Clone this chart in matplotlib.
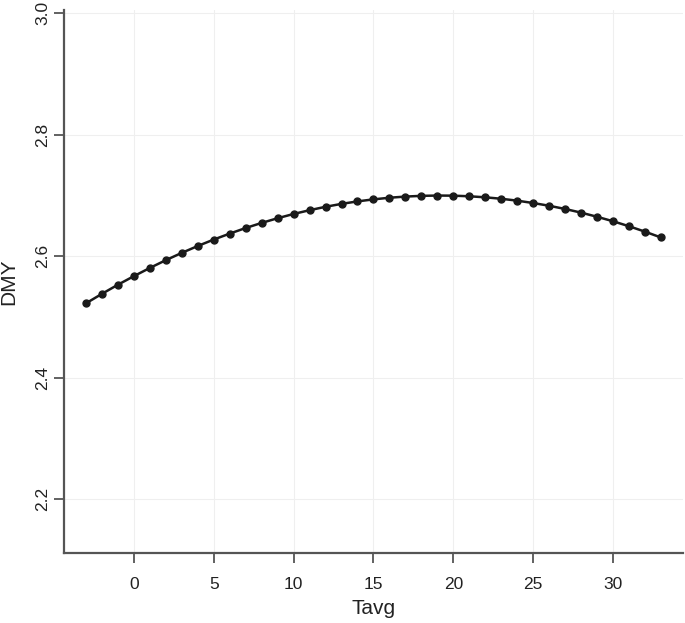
import numpy as np
import matplotlib
matplotlib.use("Agg")
import matplotlib.pyplot as plt

# values
tavg = list(range(-3, 34))
dmy = [2.5227, 2.5383, 2.5533, 2.5674, 2.5809, 2.5937, 2.6057, 2.6170,
       2.6276, 2.6374, 2.6466, 2.6550, 2.6627, 2.6697, 2.6759, 2.6815,
       2.6863, 2.6904, 2.6937, 2.6964, 2.6983, 2.6995, 2.7000, 2.6998,
       2.6988, 2.6971, 2.6947, 2.6916, 2.6877, 2.6832, 2.6779, 2.6719,
       2.6651, 2.6577, 2.6495, 2.6406, 2.6310]
xticks = [0, 5, 10, 15, 20, 25, 30]
yticks = [2.2, 2.4, 2.6, 2.8, 3.0]

plt.rcParams['font.family'] = ['Liberation Sans', 'DejaVu Sans']

fig = plt.figure(figsize=(6.85, 6.23), dpi=100)
ax = fig.add_axes([0.0934, 0.1124, 0.9036, 0.8716])

ax.plot(tavg, dmy, color='#1a1a1a', lw=1.8, marker='o', ms=5,
        mfc='#1a1a1a', mec='#1a1a1a', zorder=3)

ax.set_xlim(-4.38, 34.38)
ax.set_ylim(2.1118, 3.0054)
ax.set_xticks(xticks)
ax.set_yticks(yticks)
ax.set_yticklabels(['%.1f' % v for v in yticks], rotation=90, va='center')

ax.grid(True, color='#efefef', lw=0.8)
ax.set_axisbelow(True)

for s in ['top', 'right']:
    ax.spines[s].set_visible(False)
for s in ['left', 'bottom']:
    ax.spines[s].set_color('#555555')
    ax.spines[s].set_linewidth(1.6)

ax.tick_params(axis='both', direction='out', length=7, width=1.3,
               color='#555555', labelsize=12.5, labelcolor='#222222')
ax.tick_params(axis='x', pad=10)
ax.tick_params(axis='y', pad=3)

ax.set_xlabel('Tavg', fontsize=15, color='#222222', labelpad=5)
ax.set_ylabel('DMY', fontsize=15, color='#222222', labelpad=12)

fig.savefig('out.png', dpi=100, facecolor='white')
